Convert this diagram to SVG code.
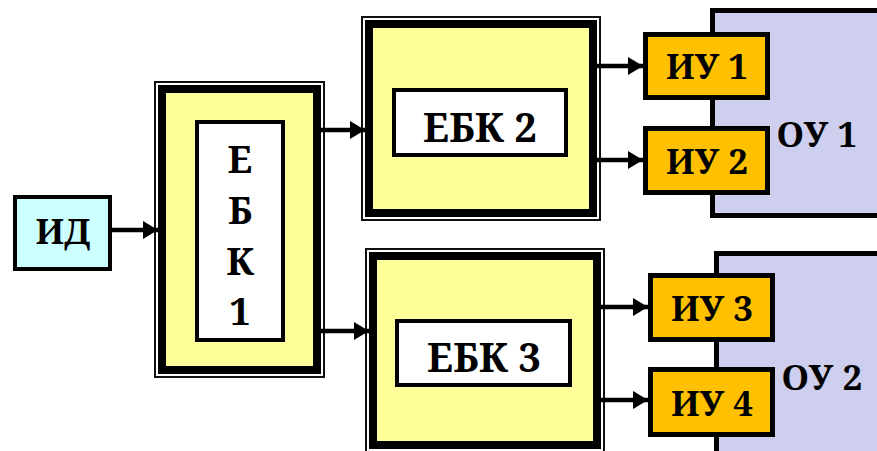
<svg xmlns="http://www.w3.org/2000/svg" width="877" height="451" viewBox="0 0 877 451">
  <defs>
    <marker id="arrow" markerUnits="userSpaceOnUse" markerWidth="15" markerHeight="18" viewBox="0 0 15 18" refX="15" refY="9" orient="auto">
      <path d="M0,0 L15,9 L0,18 Z" fill="#000"/>
    </marker>
  </defs>
  <style>
    text { font-family: "Noto Serif", "Liberation Serif", serif; font-weight: bold; fill: #000; text-anchor: middle; font-size: 35px; }
    .big { font-size: 40px; }
    .col { font-size: 38px; }
    .frame { fill: none; stroke: #111; stroke-width: 2; }
    .block { fill: #FFFF99; stroke: #000; stroke-width: 8; }
    .label { fill: #FFFFFF; stroke: #000; stroke-width: 4; }
    .sensor { fill: #CCFFFF; stroke: #000; stroke-width: 4; }
    .actuator { fill: #FFC000; stroke: #000; stroke-width: 5; }
    .object { fill: #CECEEE; stroke: #000; stroke-width: 5; }
    .wire { fill: none; stroke: #000; stroke-width: 4.5; marker-end: url(#arrow); }
  </style>

  <!-- controlled objects (behind the actuators) -->
  <g id="ou1">
    <rect class="object" x="712.5" y="10.5" width="175" height="205"/>
    <text x="817" y="147">ОУ 1</text>
  </g>
  <g id="ou2">
    <rect class="object" x="716.5" y="253.5" width="175" height="210"/>
    <text x="822" y="390">ОУ 2</text>
  </g>

  <!-- sensor -->
  <g id="id">
    <rect class="sensor" x="15" y="197" width="95" height="72"/>
    <text x="63" y="244">ИД</text>
  </g>

  <!-- ЕБК 1, label written one letter per line -->
  <g id="ebk1">
    <rect class="frame" x="155" y="82" width="169" height="295"/>
    <rect class="block" x="162" y="89" width="155" height="281"/>
    <rect class="label" x="197" y="122" width="86" height="218"/>
    <text class="col" x="240" y="173">Е<tspan x="240" dy="51">Б</tspan><tspan x="240" dy="51">К</tspan><tspan x="240" dy="50">1</tspan></text>
  </g>

  <!-- ЕБК 2 -->
  <g id="ebk2">
    <rect class="frame" x="362" y="17" width="238" height="203"/>
    <rect class="block" x="369" y="24" width="224" height="189"/>
    <rect class="label" x="394" y="90" width="172" height="65"/>
    <text class="big" x="480" y="142">ЕБК 2</text>
  </g>

  <!-- ЕБК 3 -->
  <g id="ebk3">
    <rect class="frame" x="366" y="249" width="238" height="203"/>
    <rect class="block" x="373" y="256" width="224" height="189"/>
    <rect class="label" x="397" y="321" width="173" height="64"/>
    <text class="big" x="484" y="372">ЕБК 3</text>
  </g>

  <!-- actuators -->
  <g id="iu1">
    <rect class="actuator" x="645.5" y="34.5" width="122" height="63"/>
    <text x="707" y="79">ИУ 1</text>
  </g>
  <g id="iu2">
    <rect class="actuator" x="645.5" y="128.5" width="122" height="64"/>
    <text x="707" y="174">ИУ 2</text>
  </g>
  <g id="iu3">
    <rect class="actuator" x="650.5" y="275.5" width="122" height="64"/>
    <text x="712" y="321">ИУ 3</text>
  </g>
  <g id="iu4">
    <rect class="actuator" x="650.5" y="369.5" width="122" height="65"/>
    <text x="712" y="416">ИУ 4</text>
  </g>

  <!-- connectors -->
  <g id="connectors">
    <line class="wire" x1="110" y1="230" x2="158" y2="230"/>
    <line class="wire" x1="318" y1="130" x2="365" y2="130"/>
    <line class="wire" x1="318" y1="331" x2="369" y2="331"/>
    <line class="wire" x1="596" y1="66" x2="643" y2="66"/>
    <line class="wire" x1="596" y1="160" x2="643" y2="160"/>
    <line class="wire" x1="600" y1="307" x2="648" y2="307"/>
    <line class="wire" x1="600" y1="400" x2="648" y2="400"/>
  </g>
</svg>
